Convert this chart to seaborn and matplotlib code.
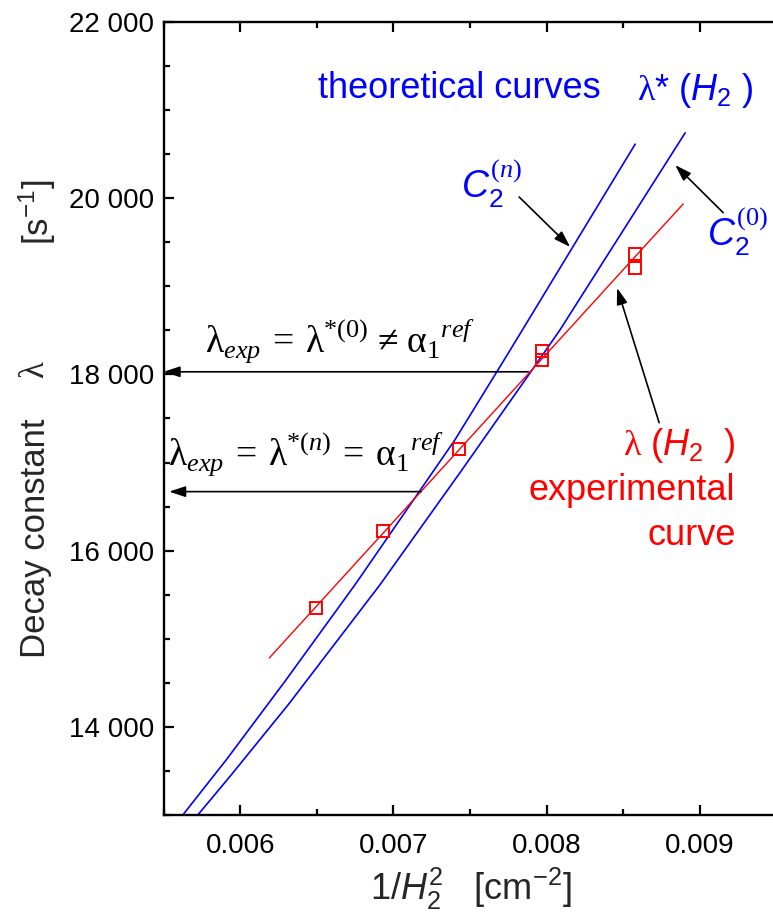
import matplotlib
matplotlib.use("Agg")
import matplotlib.pyplot as plt
import seaborn as sns
from matplotlib.ticker import MultipleLocator

# ---------------- data ----------------
# experimental points (red squares)
x_exp = [0.006496, 0.006935, 0.007429, 0.007968, 0.007968, 0.008574, 0.008574]
y_exp = [15353, 16221, 17155, 18261, 18167, 19368, 19206]
# experimental (fitted) curve
x_fit = [0.00619, 0.00889]
y_fit = [14782, 19935]
# theoretical curve C2^(n)
x_cn = [0.005630, 0.005913, 0.006294, 0.006750, 0.007402, 0.007696, 0.007850, 0.008577]
y_cn = [13009, 13634, 14521, 15615, 17260, 18091, 18530, 20614]
# theoretical curve C2^(0)
x_c0 = [0.005728, 0.005937, 0.006316, 0.006913, 0.007440, 0.007883, 0.008087, 0.008903]
y_c0 = [13009, 13445, 14257, 15615, 16900, 17997, 18507, 20742]

x_ticks = [0.006, 0.007, 0.008, 0.009]
x_ticklabels = ["0.006", "0.007", "0.008", "0.009"]
y_ticks = [14000, 16000, 18000, 20000, 22000]
y_ticklabels = ["14 000", "16 000", "18 000", "20 000", "22 000"]

# levels of the horizontal read-off arrows
lam_exp_0 = 18030
lam_exp_n = 16670

# ---------------- style ----------------
sns.set_style("ticks")
plt.rcParams['font.family'] = ['Liberation Sans', 'DejaVu Sans']
plt.rcParams['mathtext.fontset'] = 'custom'
plt.rcParams['mathtext.rm'] = 'Liberation Sans'
plt.rcParams['mathtext.it'] = 'Liberation Sans:italic'
plt.rcParams['mathtext.bf'] = 'Liberation Sans:bold'
plt.rcParams['mathtext.tt'] = 'Liberation Serif'
plt.rcParams['mathtext.sf'] = 'Liberation Serif:italic'

W, H = 773, 922
fig = plt.figure(figsize=(W / 100, H / 100), dpi=100)


def fx(px):
    return px / W


def fy(py):
    return 1 - py / H


ax_l, ax_r, ax_t, ax_b = 163.5, 773, 22, 815
ax = fig.add_axes([fx(ax_l), fy(ax_b), (ax_r - ax_l) / W, (ax_b - ax_t) / H])

BLUE = "#0000ff"
RED = "#ff0000"

sns.lineplot(x=x_cn, y=y_cn, ax=ax, color=BLUE, lw=1.2, estimator=None, sort=False)
sns.lineplot(x=x_c0, y=y_c0, ax=ax, color=BLUE, lw=1.2, estimator=None, sort=False)
sns.lineplot(x=x_fit, y=y_fit, ax=ax, color=RED, lw=1.0, estimator=None, sort=False)
sns.lineplot(x=x_exp, y=y_exp, ax=ax, marker="s", linestyle="none", markersize=8.3,
             markerfacecolor="none", markeredgecolor=RED, markeredgewidth=1.4,
             estimator=None, sort=False)

ax.set_xlim(0.0055, 0.009476)
ax.set_ylim(13000, 22000)
ax.set_xticks(x_ticks)
ax.set_xticklabels(x_ticklabels)
ax.set_yticks(y_ticks)
ax.set_yticklabels(y_ticklabels)
ax.xaxis.set_minor_locator(MultipleLocator(0.0005))
ax.yaxis.set_minor_locator(MultipleLocator(500))
ax.tick_params(which="both", direction="in", top=True, right=False, width=1.6, colors="black")
ax.tick_params(which="major", length=7.5, labelsize=20)
ax.tick_params(which="minor", length=4)
ax.tick_params(axis="x", which="major", pad=13)
ax.tick_params(axis="y", which="major", pad=6.5)
ax.spines["right"].set_visible(False)
for s in ["left", "top", "bottom"]:
    ax.spines[s].set_linewidth(1.7)
    ax.spines[s].set_color("black")
ax.set_xlabel("")
ax.set_ylabel("")

# ---------------- arrows ----------------
aprops = dict(arrowstyle="-|>,head_length=0.55,head_width=0.18", color="black",
              lw=1.2, shrinkA=0, shrinkB=0, mutation_scale=18)
ax.annotate("", xy=(0.0055, lam_exp_0), xytext=(0.00788, lam_exp_0),
            arrowprops=aprops, annotation_clip=False)
ax.annotate("", xy=(0.005536, lam_exp_n), xytext=(0.00718, lam_exp_n),
            arrowprops=aprops, annotation_clip=False)
ax.annotate("", xy=(0.008153, 19447), xytext=(0.00782, 20014), arrowprops=aprops)
ax.annotate("", xy=(0.008838, 20376), xytext=(0.009151, 19836), arrowprops=aprops)
ax.annotate("", xy=(0.008459, 18982), xytext=(0.008733, 17453), arrowprops=aprops)

# ---------------- texts ----------------
FS = 26
fig.text(fx(318), fy(98), "theoretical curves", color=BLUE, fontsize=FS, va="baseline")
fig.text(fx(637), fy(100), r"$\mathtt{λ}$* ($\mathit{H}_{\mathrm{2}}$ )", color=BLUE,
         fontsize=FS, va="baseline")
fig.text(fx(461), fy(198), r"$\mathit{C}_{\mathrm{2}}^{\mathtt{(}\mathsf{n}\mathtt{)}}$",
         color=BLUE, fontsize=FS + 1, va="baseline")
fig.text(fx(707), fy(245), r"$\mathit{C}_{\mathrm{2}}^{\mathtt{(0)}}$",
         color=BLUE, fontsize=FS + 1, va="baseline")
fig.text(fx(736), fy(455), r"$\mathtt{λ}$ ($\mathit{H}_{\mathrm{2}}$  )", color=RED,
         fontsize=FS, va="baseline", ha="right")
fig.text(fx(735), fy(500), "experimental", color=RED, fontsize=FS, va="baseline", ha="right")
fig.text(fx(736), fy(545), "curve", color=RED, fontsize=FS, va="baseline", ha="right")

fig.text(fx(205), fy(352),
         r"$\mathtt{λ}_{\mathsf{exp}}\mathtt{\,=\,λ}^{\mathtt{*(0)}}\mathtt{\;≠\;α}_{\mathtt{1}}{}^{\mathsf{ref}}$",
         fontsize=27, va="baseline", color="black")
fig.text(fx(168), fy(465),
         r"$\mathtt{λ}_{\mathsf{exp}}\mathtt{\,=\,λ}^{\mathtt{*(}\mathsf{n}\mathtt{)}}\mathtt{\,=\,α}_{\mathtt{1}}{}^{\mathsf{ref}}$",
         fontsize=27, va="baseline", color="black")

# axis labels
fig.text(fx(370), fy(900), r"1/$\mathit{H}_{\mathrm{2}}^{\mathrm{2}}$   [cm$^{\mathrm{-2}}$]",
         fontsize=FS, va="baseline")
fig.text(fx(36), fy(538), "Decay constant", rotation=90, ha="center", va="center", fontsize=25)
fig.text(fx(34), fy(370), r"$\mathtt{λ}$", rotation=90, ha="center", va="center", fontsize=25)
fig.text(fx(37), fy(212), r"[s$^{\mathrm{-1}}$]", rotation=90, ha="center", va="center", fontsize=25)

fig.savefig("out.png", dpi=100)
